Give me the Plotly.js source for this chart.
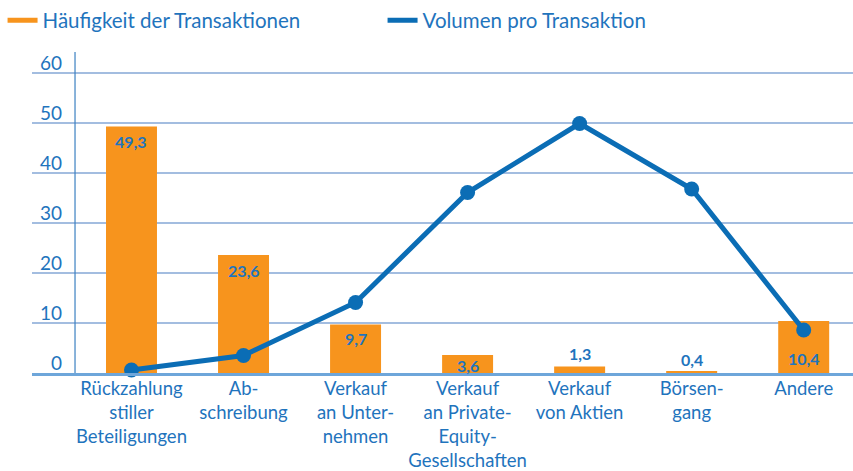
<!DOCTYPE html>
<html><head><meta charset="utf-8">
<script src="https://cdn.plot.ly/plotly-3.0.1.min.js"></script>
<style>body{margin:0;background:#fff}#chart{width:853px;height:471px}</style>
</head><body><div id="chart"></div>
<script>
const categories = [
  "Rückzahlung<br>stiller<br>Beteiligungen",
  "Ab-<br>schreibung",
  "Verkauf<br>an Unter-<br>nehmen",
  "Verkauf<br>an Private-<br>Equity-<br>Gesellschaften",
  "Verkauf<br>von Aktien",
  "Börsen-<br>gang",
  "Andere"
];
const haeufigkeit = [49.3, 23.6, 9.7, 3.6, 1.3, 0.4, 10.4];
const volumen = [0.6, 3.5, 14.1, 36.1, 49.9, 36.8, 8.6];
const yTicks = [0, 10, 20, 30, 40, 50, 60];

// label pixel offsets relative to bar top (style only)
const labelShift = [-15, -15, -14, -10, 13, 12, -37];

const ORANGE = "#f7941d", BLUE = "#0b6db5", TXT = "#1f74bd";
const FONT = "Lato, 'Open Sans', sans-serif";

const traces = [
  {type:"bar", x:categories, y:haeufigkeit, marker:{color:ORANGE}, showlegend:false, hoverinfo:"skip"},
  {type:"scatter", mode:"lines+markers", x:categories, y:volumen, showlegend:false,
   line:{color:BLUE, width:5}, marker:{color:BLUE, size:15}, cliponaxis:false},
  {type:"scatter", mode:"lines", x:[null], y:[null], name:"Häufigkeit der Transaktionen",
   line:{color:ORANGE, width:5}},
  {type:"scatter", mode:"lines", x:[null], y:[null], name:"Volumen pro Transaktion",
   line:{color:BLUE, width:5}}
];

const annotations = haeufigkeit.map((v, i) => ({
  x: categories[i], y: v, xref:"x", yref:"y", showarrow:false,
  text: v.toFixed(1).replace(".", ","), yshift: labelShift[i], yanchor:"middle",
  font:{family:FONT, size:16, color:TXT, weight:"bold"}
}));

const layout = {
  width:853, height:471,
  margin:{l:32, r:0, t:52, b:98},
  paper_bgcolor:"#fff", plot_bgcolor:"#fff",
  separators:",.",
  font:{family:FONT, color:TXT, size:19},
  bargap:0.545,
  showlegend:true,
  legend:{orientation:"h", x:0.003, y:0.999, xref:"container", yref:"container", yanchor:"top",
          xanchor:"left", entrywidth:335, entrywidthmode:"pixels",
          font:{size:20.5, color:TXT, family:FONT}, bgcolor:"rgba(0,0,0,0)"},
  xaxis:{type:"category", range:[-0.888, 6.44], showgrid:false, showline:true,
         linecolor:"#6ea6da", linewidth:2.5, ticks:"", zeroline:false,
         ticklabelstandoff:-3,
         tickfont:{size:18.5, color:TXT, family:FONT}, automargin:false},
  yaxis:{range:[0, 64.2], tickvals:yTicks, ticktext:yTicks.map(String), showgrid:true,
         gridcolor:"#a3bde0", gridwidth:1.5, zeroline:false, showline:false, ticks:"",
         ticklabelshift:-10, ticklabelstandoff:-31,
         tickfont:{size:19, color:TXT, family:FONT}, automargin:false},
  annotations: annotations,
  shapes:[{type:"line", xref:"paper", yref:"paper", x0:0.0524, x1:0.0524, y0:0, y1:1,
           line:{color:"#3b80c2", width:1.2}}]
};
Plotly.newPlot("chart", traces, layout, {displayModeBar:false, staticPlot:true});
</script></body></html>
